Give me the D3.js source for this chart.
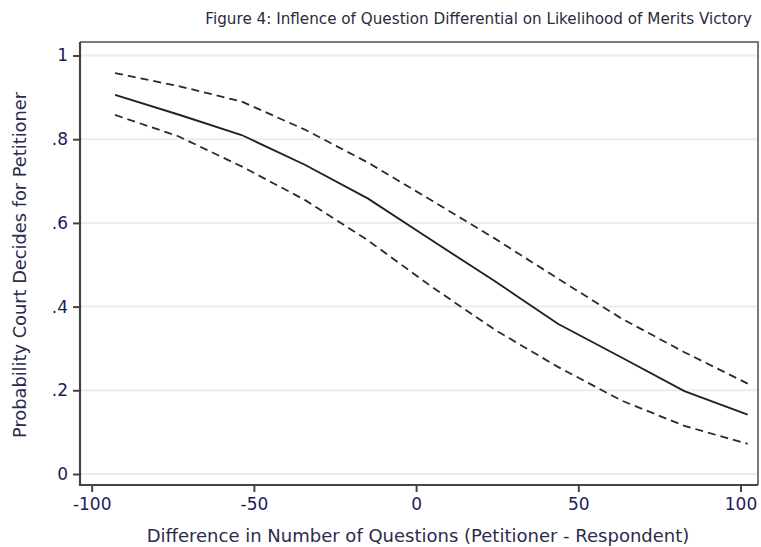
<!DOCTYPE html>
<html>
<head>
<meta charset="utf-8">
<script src="https://cdn.jsdelivr.net/npm/d3@7"></script>
<style>
body { margin: 0; background: #fff; }
svg text { font-family: "DejaVu Sans", Verdana, sans-serif; }
</style>
</head>
<body>
<div id="chart"></div>
<script>
// question differential (x) and predicted probability with 95% bounds
var diffs = [-92.8, -73.3, -53.8, -34.3, -14.8, 4.7, 24.2, 43.7, 63.2, 82.7, 102.2];
var prob  = [0.906, 0.859, 0.810, 0.739, 0.658, 0.559, 0.461, 0.359, 0.279, 0.198, 0.142];
var upper = [0.958, 0.927, 0.890, 0.823, 0.744, 0.654, 0.563, 0.467, 0.372, 0.291, 0.216];
var lower = [0.858, 0.807, 0.735, 0.655, 0.558, 0.448, 0.345, 0.256, 0.176, 0.115, 0.072];
var xTicks = [-100, -50, 0, 50, 100];
var yTicks = [0, 0.2, 0.4, 0.6, 0.8, 1];

var W = 761, H = 547;
var pLeft = 80, pRight = 758, pTop = 42, pBottom = 485;

var svg = d3.select("#chart").append("svg")
    .attr("width", W)
    .attr("height", H);

var x = d3.scaleLinear().domain([-100, 100]).range([91.7, 740.5]);
var y = d3.scaleLinear().domain([0, 1]).range([474, 55.5]);

// grid lines
svg.append("g").selectAll("line")
    .data(yTicks)
    .enter().append("line")
    .attr("x1", pLeft).attr("x2", pRight)
    .attr("y1", function(d) { return y(d); })
    .attr("y2", function(d) { return y(d); })
    .attr("stroke", "#ececec")
    .attr("stroke-width", 2);

// outer frame (top + right)
svg.append("path")
    .attr("d", "M" + pLeft + "," + pTop + "H" + pRight + "V" + pBottom)
    .attr("fill", "none")
    .attr("stroke", "#7a7a7a")
    .attr("stroke-width", 2);

// axes
var yAxis = d3.axisLeft(y)
    .tickValues(yTicks)
    .tickSize(7)
    .tickPadding(5)
    .tickFormat(function(d) { return d === 0 || d === 1 ? String(d) : String(d).replace(/^0/, ""); });

var gy = svg.append("g")
    .attr("transform", "translate(" + pLeft + ",0)")
    .call(yAxis);

var xAxis = d3.axisBottom(x)
    .tickValues(xTicks)
    .tickSize(7)
    .tickPadding(6)
    .tickFormat(function(d) { return String(d); });

var gx = svg.append("g")
    .attr("transform", "translate(0," + pBottom + ")")
    .call(xAxis);

[gx, gy].forEach(function(g) {
    g.select(".domain").remove();
    g.selectAll(".tick line").attr("stroke", "#444").attr("stroke-width", 2);
    g.selectAll(".tick text")
        .attr("fill", "#1c1c5c")
        .style("font-size", "17px");
});

// axis lines drawn on top
svg.append("path")
    .attr("d", "M" + pLeft + "," + pTop + "V" + pBottom + "H" + pRight)
    .attr("fill", "none")
    .attr("stroke", "#444")
    .attr("stroke-width", 2.2);

// lines
var line = d3.line()
    .x(function(d) { return x(d[0]); })
    .y(function(d) { return y(d[1]); });

function pairs(vals) {
    return diffs.map(function(d, i) { return [d, vals[i]]; });
}

svg.append("path")
    .datum(pairs(upper))
    .attr("d", line)
    .attr("fill", "none")
    .attr("stroke", "#2a2a2a")
    .attr("stroke-width", 1.8)
    .attr("stroke-dasharray", "8,5");

svg.append("path")
    .datum(pairs(lower))
    .attr("d", line)
    .attr("fill", "none")
    .attr("stroke", "#2a2a2a")
    .attr("stroke-width", 1.8)
    .attr("stroke-dasharray", "8,5");

svg.append("path")
    .datum(pairs(prob))
    .attr("d", line)
    .attr("fill", "none")
    .attr("stroke", "#222")
    .attr("stroke-width", 1.9);

// titles
svg.append("text")
    .attr("x", 752)
    .attr("y", 24)
    .attr("text-anchor", "end")
    .attr("fill", "#2b2b3b")
    .style("font-size", "15.2px")
    .text("Figure 4: Inflence of Question Differential on Likelihood of Merits Victory");

svg.append("text")
    .attr("x", 418)
    .attr("y", 542)
    .attr("text-anchor", "middle")
    .attr("fill", "#2b2b4b")
    .style("font-size", "18px")
    .text("Difference in Number of Questions (Petitioner - Respondent)");

svg.append("text")
    .attr("transform", "translate(26,265) rotate(-90)")
    .attr("text-anchor", "middle")
    .attr("fill", "#2b2b4b")
    .style("font-size", "17.8px")
    .text("Probability Court Decides for Petitioner");
</script>
</body>
</html>
